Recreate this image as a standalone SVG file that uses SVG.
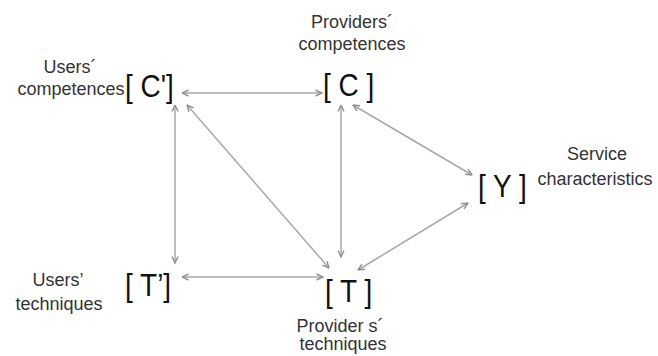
<svg xmlns="http://www.w3.org/2000/svg" width="658" height="356" viewBox="0 0 658 356">
<style>
.lbl{font-family:"Liberation Sans",Arial,sans-serif;font-size:18px;fill:#333;text-anchor:middle}
.var{font-family:"Liberation Sans",Arial,sans-serif;font-size:28px;fill:#111}
.edge{stroke:#a8a8a8;stroke-width:1.5;fill:none;marker-start:url(#ah);marker-end:url(#ah)}
</style>
<defs>
<marker id="ah" viewBox="0 0 8 8" refX="7.5" refY="4" markerWidth="8" markerHeight="8" markerUnits="userSpaceOnUse" orient="auto-start-reverse">
<path d="M1,1 L7.5,4 L1,7" fill="none" stroke="#909090" stroke-width="1.4"/>
</marker>
</defs>
<rect width="658" height="356" fill="#fff"/>
<g id="connectors">
<line class="edge" x1="182" y1="93" x2="322" y2="93"/>
<line class="edge" x1="175" y1="105" x2="175" y2="263"/>
<line class="edge" x1="187" y1="105" x2="329" y2="268"/>
<line class="edge" x1="341" y1="105" x2="341" y2="257"/>
<line class="edge" x1="353" y1="105" x2="472" y2="175"/>
<line class="edge" x1="358" y1="270" x2="468" y2="203"/>
<line class="edge" x1="182" y1="277" x2="323" y2="277"/>
</g>
<g id="node-Cp">
<text class="lbl" x="70" y="73">Users´</text>
<text class="lbl" x="71" y="95">competences</text>
<text class="var" transform="translate(125 97) scale(1 1.12)">[ C']</text>
</g>
<g id="node-C">
<text class="lbl" x="352" y="28">Providers´</text>
<text class="lbl" x="352" y="50">competences</text>
<text class="var" transform="translate(323 96) scale(1 1.12)">[ C ]</text>
</g>
<g id="node-Y">
<text class="lbl" x="597" y="160">Service</text>
<text class="lbl" x="595" y="185">characteristics</text>
<text class="var" transform="translate(478 197) scale(1 1.12)">[ Y ]</text>
</g>
<g id="node-Tp">
<text class="lbl" x="58" y="286">Users’</text>
<text class="lbl" x="59" y="310">techniques</text>
<text class="var" transform="translate(125 296) scale(1 1.12)">[ T’]</text>
</g>
<g id="node-T">
<text class="lbl" x="340" y="332">Provider s´</text>
<text class="lbl" x="343" y="350">techniques</text>
<text class="var" transform="translate(325 302) scale(1 1.12)">[ T ]</text>
</g>
</svg>
